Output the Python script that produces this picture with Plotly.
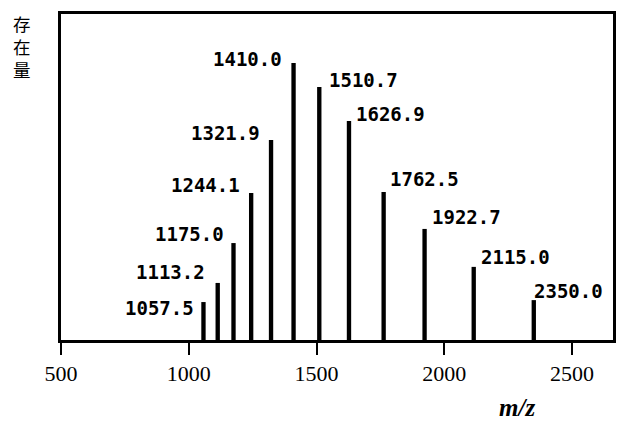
import plotly.graph_objects as go

# m/z values (peak positions) and relative abundance
mz = [1057.5, 1113.2, 1175.0, 1244.1, 1321.9, 1410.0, 1510.7, 1626.9, 1762.5, 1922.7, 2115.0, 2350.0]
abundance = [13.7, 20.6, 35.0, 53.1, 72.2, 100.0, 91.3, 79.1, 53.4, 40.1, 26.4, 14.4]
peak_labels = ["1057.5", "1113.2", "1175.0", "1244.1", "1321.9", "1410.0",
               "1510.7", "1626.9", "1762.5", "1922.7", "2115.0", "2350.0"]
x_ticks = [500, 1000, 1500, 2000, 2500]
y_title = "存在量"
x_title = "m/z"

# label placement (style): pixel offsets of each peak label from its bar top
label_dx = [-8, -12, -9, -10, -10, -11, 9, 6, 5, 6, 6, -1]
label_dy = [-6, 11, 9, 8, 7, 4, 7, 7, 13, 12, 10, 9]

fig = go.Figure()
fig.add_trace(go.Bar(x=mz, y=abundance, width=17,
                     marker=dict(color="black", line=dict(width=0)),
                     hoverinfo="skip"))

label_font = dict(family="DejaVu Sans Mono", size=19, color="black")
annotations = []
for x, y, t, dx, dy in zip(mz, abundance, peak_labels, label_dx, label_dy):
    annotations.append(dict(
        x=x, y=y, xref="x", yref="y", text="<b>%s</b>" % t, showarrow=False,
        xanchor="right" if dx < 0 and x <= 1410 else "left",
        yanchor="middle", xshift=dx, yshift=dy, borderpad=0,
        font=label_font,
    ))

# vertical y title, one character per line
plot_h = 421 - 14 - 81
annotations.append(dict(
    x=(22 - 61) / 555, y=(340 - 10) / plot_h, xref="paper", yref="paper",
    text="<br>".join(list(y_title)), showarrow=False,
    xanchor="center", yanchor="top", align="center", borderpad=0,
    font=dict(family="Noto Sans CJK JP", size=17.5, color="black"),
))

annotations.append(dict(
    x=(519 - 61) / 555, y=(340 - 408) / plot_h, xref="paper", yref="paper",
    text="<i><b>m/z</b></i>", showarrow=False,
    xanchor="center", yanchor="middle",
    font=dict(family="Liberation Serif", size=25, color="black"),
))

fig.update_layout(
    width=621, height=421,
    margin=dict(l=61, r=5, t=14, b=81),
    paper_bgcolor="white", plot_bgcolor="white",
    showlegend=False,
    annotations=annotations,
    xaxis=dict(
        range=[500, 2660], tickvals=x_ticks,
        ticktext=[str(v) for v in x_ticks],
        ticks="outside", ticklen=12, tickwidth=2, tickcolor="black",
        showline=True, linecolor="black", linewidth=3, mirror=True,
        showgrid=False, zeroline=False,
        tickfont=dict(family="Liberation Serif", size=22, color="black"),
    ),
    yaxis=dict(
        range=[0, 117.7], showticklabels=False, ticks="",
        showline=True, linecolor="black", linewidth=3, mirror=True,
        showgrid=False, zeroline=False,
    ),
)

fig.write_html("out.html", config={"displayModeBar": False},
               post_script="document.body.style.margin='0';document.body.style.padding='0';")
